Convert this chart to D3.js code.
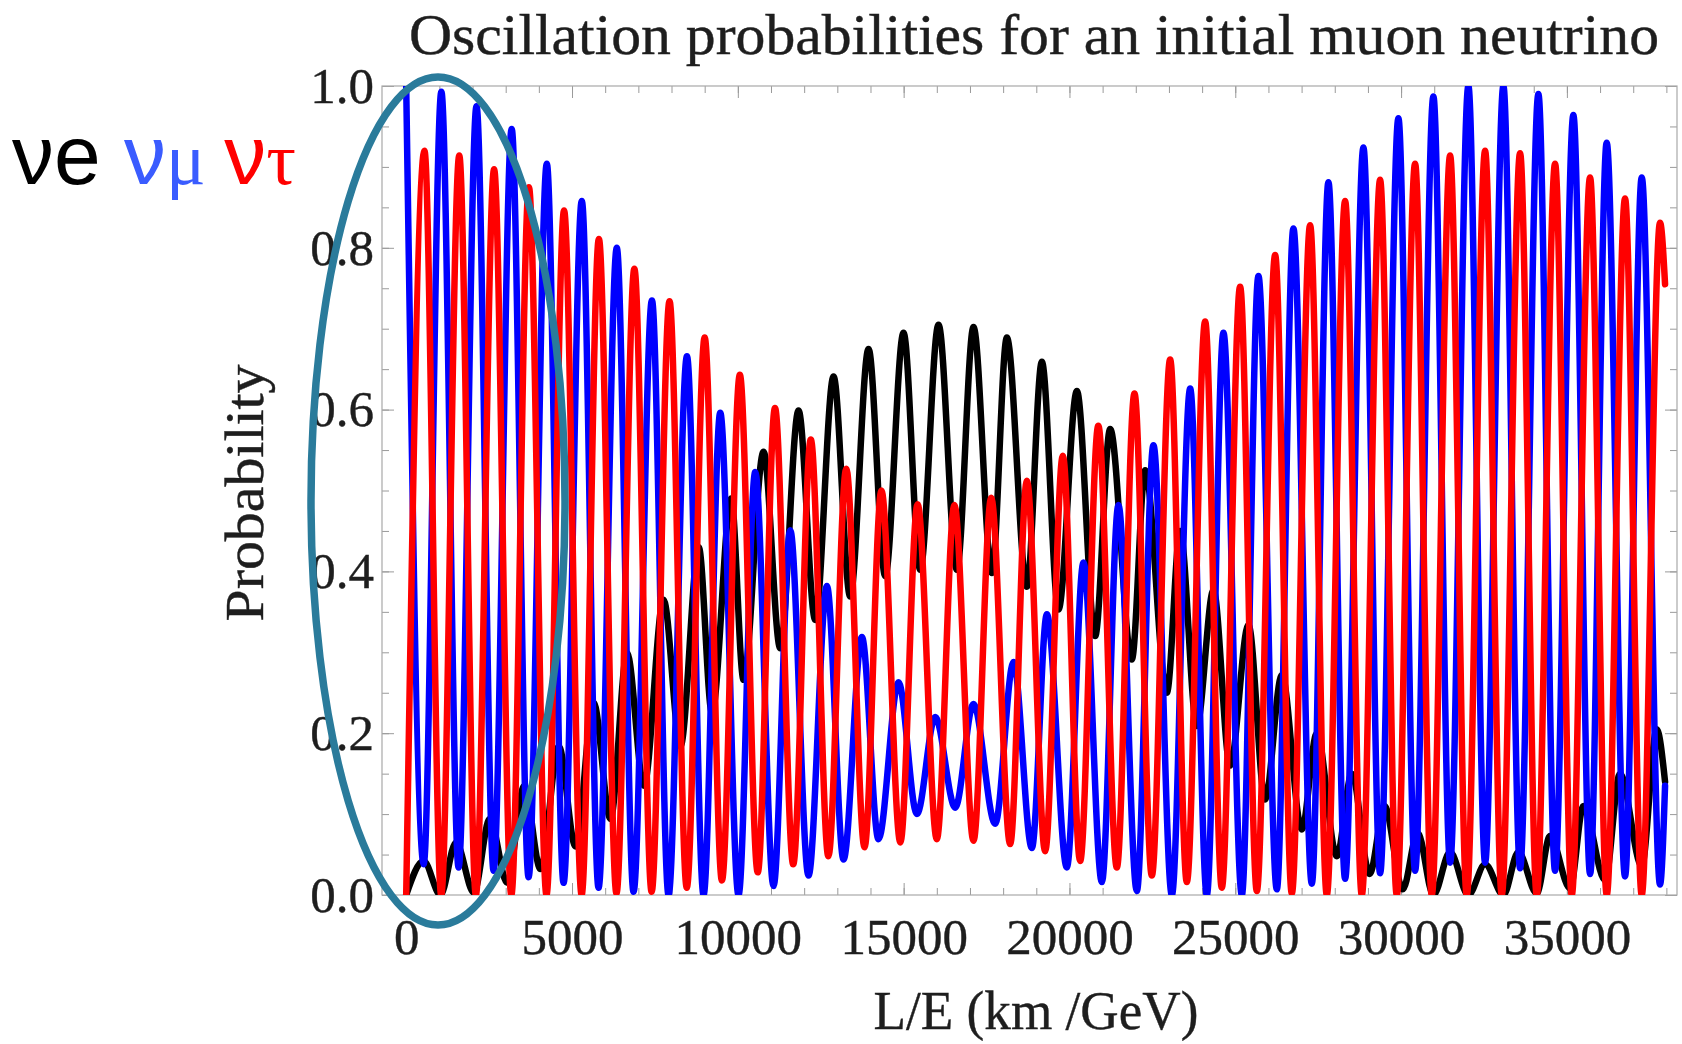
<!DOCTYPE html>
<html>
<head>
<meta charset="utf-8">
<script src="https://cdnjs.cloudflare.com/ajax/libs/d3/7.8.5/d3.min.js"></script>
<style>
  body { margin: 0; background: #ffffff; }
  svg { display: block; }
  .serifText { font-family: "Liberation Serif", "Times New Roman", serif; fill: #1e1e1e; stroke: #1e1e1e; stroke-width: 0.4; }
  .tick text { font-family: "Liberation Serif", "Times New Roman", serif; font-size: 51px; fill: #1e1e1e; stroke: #1e1e1e; stroke-width: 0.4; }
  .tick line { stroke: #9a9a9a; stroke-width: 1; }
</style>
</head>
<body>
<div class="chart"></div>
<script>

// Turning points (L/E in km/GeV, probability), per flavour
var nueExtrema = [
  [0, 0], [525, 0.042], [1033, 0.0], [1500, 0.065], [2040, 0.003], [2520, 0.094],
  [3045, 0.015], [3560, 0.135], [4050, 0.032], [4600, 0.184], [5106, 0.06], [5650, 0.238],
  [6160, 0.094], [6660, 0.299], [7170, 0.135], [7760, 0.365], [8270, 0.184], [8820, 0.43],
  [9220, 0.225], [9800, 0.49], [10172, 0.266], [10775, 0.548], [11278, 0.305], [11830, 0.599],
  [12333, 0.34], [12886, 0.641], [13388, 0.369], [13941, 0.675], [14444, 0.394], [14996, 0.695],
  [15499, 0.402], [16051, 0.705], [16605, 0.402], [17106, 0.702], [17660, 0.398], [18112, 0.689],
  [18716, 0.381], [19168, 0.659], [19669, 0.353], [20224, 0.623], [20775, 0.32], [21227, 0.576],
  [21880, 0.291], [22282, 0.525], [22935, 0.25], [23337, 0.45], [23840, 0.209], [24342, 0.377],
  [24845, 0.16], [25397, 0.334], [25900, 0.118], [26403, 0.272], [27006, 0.081], [27459, 0.20],
  [28062, 0.048], [28514, 0.15], [29050, 0.026], [29500, 0.11], [30050, 0.007], [30500, 0.077],
  [30974, 0], [31478, 0.053], [32029, 0], [32533, 0.038], [33085, 0], [33537, 0.053],
  [34090, 0.002], [34492, 0.073], [35096, 0.008], [35497, 0.11], [36151, 0.018], [36600, 0.15],
  [37257, 0.036], [37707, 0.205], [37960, 0.14]
];

var numuExtrema = [
  [0, 1.0], [527, 0.038], [1060, 0.993], [1580, 0.034], [2120, 0.975], [2635, 0.03],
  [3180, 0.947], [3690, 0.022], [4240, 0.904], [4745, 0.015], [5295, 0.858], [5800, 0.009],
  [6350, 0.80], [6855, 0.004], [7410, 0.735], [7910, 0], [8466, 0.666], [8966, 0],
  [9470, 0.596], [10021, 0], [10525, 0.523], [11076, 0.011], [11580, 0.451], [12131, 0.024],
  [12686, 0.382], [13187, 0.044], [13741, 0.319], [14242, 0.069], [14845, 0.263], [15400, 0.10],
  [15952, 0.22], [16554, 0.108], [17106, 0.236], [17760, 0.088], [18312, 0.288], [18866, 0.058],
  [19319, 0.347], [19921, 0.034], [20422, 0.411], [20977, 0.016], [21477, 0.482], [22032, 0.005],
  [22532, 0.556], [23087, 0], [23640, 0.626], [24142, 0], [24643, 0.695], [25198, 0],
  [25698, 0.765], [26253, 0.007], [26753, 0.824], [27308, 0.014], [27809, 0.881], [28312, 0.02],
  [28864, 0.924], [29367, 0.027], [29919, 0.96], [30422, 0.03], [30974, 0.987], [31478, 0.04],
  [32029, 1.0], [32533, 0.04], [33085, 1.0], [33588, 0.033], [34140, 0.99], [34643, 0.03],
  [35195, 0.964], [35700, 0.026], [36200, 0.93], [36753, 0.023], [37257, 0.887], [37808, 0.013],
  [37960, 0.135]
];

var nutauExtrema = [
  [0, 0], [550, 0.92], [1055, 0], [1600, 0.914], [2100, 0], [2650, 0.897],
  [3170, 0], [3700, 0.875], [4230, 0], [4760, 0.846], [5290, 0], [5810, 0.811],
  [6340, 0.002], [6880, 0.774], [7400, 0.004], [7940, 0.734], [8460, 0.009], [9000, 0.689],
  [9520, 0.018], [10060, 0.643], [10600, 0.028], [11120, 0.602], [11670, 0.038], [12200, 0.563],
  [12730, 0.048], [13270, 0.527], [13820, 0.059], [14330, 0.50], [14900, 0.065], [15420, 0.483],
  [16000, 0.069], [16530, 0.482], [17106, 0.067], [17640, 0.491], [18212, 0.063], [18716, 0.512],
  [19267, 0.054], [19800, 0.543], [20322, 0.042], [20870, 0.58], [21429, 0.034], [21960, 0.62],
  [22484, 0.024], [23036, 0.662], [23539, 0.016], [24091, 0.709], [24594, 0.009], [25146, 0.752],
  [25650, 0.005], [26202, 0.791], [26705, 0.002], [27257, 0.828], [27760, 0], [28312, 0.858],
  [28815, 0], [29367, 0.884], [29870, 0], [30422, 0.904], [30925, 0], [31478, 0.914],
  [31980, 0], [32533, 0.92], [33035, 0], [33588, 0.917], [34090, 0], [34643, 0.904],
  [35146, 0], [35698, 0.887], [36201, 0], [36753, 0.861], [37256, 0], [37808, 0.831],
  [37960, 0.755]
];

// Axis ticks and labels
var xTicks = [0, 5000, 10000, 15000, 20000, 25000, 30000, 35000];
var yTicks = [0.0, 0.2, 0.4, 0.6, 0.8, 1.0];
var seriesColors = ["#000000", "#0000ff", "#ff0000"];
var titleText = "Oscillation probabilities for an initial muon neutrino";
var xLabelText = "L/E (km /GeV)";
var yLabelText = "Probability";

// Page and frame settings
var w = 1682;
var h = 1044;
var frame = {left: 382, right: 1677, top: 86, bottom: 895};

var svg = d3.select(".chart")
  .append("svg")
  .attr("width", w)
  .attr("height", h);

// Scales
var x = d3.scaleLinear()
  .domain([-730, 38320])
  .range([frame.left, frame.right]);

var y = d3.scaleLinear()
  .domain([0, 1])
  .range([frame.bottom, frame.top]);

// Title (the original lettering is slightly wide, so stretch it to its span)
svg.append("text")
  .attr("class", "serifText")
  .attr("x", 1034)
  .attr("y", 54)
  .attr("text-anchor", "middle")
  .attr("textLength", 1250)
  .attr("lengthAdjust", "spacingAndGlyphs")
  .style("font-size", "56px")
  .text(titleText);

// Minor ticks first, then the labelled major ones
var xMinor = d3.range(0, 38001, 1000);
var yMinor = d3.range(0, 1.0001, 0.05);

function drawTicks() {

    svg.append("g")
      .attr("transform", "translate(0," + frame.bottom + ")")
      .call(d3.axisBottom(x).tickValues(xMinor).tickSize(-7).tickSizeOuter(0).tickFormat(""))
      .call(function(g) { g.select(".domain").remove(); });

    svg.append("g")
      .attr("transform", "translate(0," + frame.top + ")")
      .call(d3.axisTop(x).tickValues(xMinor).tickSize(-7).tickSizeOuter(0).tickFormat(""))
      .call(function(g) { g.select(".domain").remove(); });

    svg.append("g")
      .attr("transform", "translate(0," + frame.top + ")")
      .call(d3.axisTop(x).tickValues(xTicks).tickSize(-12).tickSizeOuter(0).tickFormat(""))
      .call(function(g) { g.select(".domain").remove(); });

    svg.append("g")
      .attr("transform", "translate(0," + frame.bottom + ")")
      .call(d3.axisBottom(x).tickValues(xTicks).tickSize(-12).tickSizeOuter(0)
        .tickPadding(23).tickFormat(d3.format("d")))
      .call(function(g) { g.select(".domain").remove(); });

    svg.append("g")
      .attr("transform", "translate(" + frame.left + ",0)")
      .call(d3.axisLeft(y).tickValues(yMinor).tickSize(-7).tickSizeOuter(0).tickFormat(""))
      .call(function(g) { g.select(".domain").remove(); });

    svg.append("g")
      .attr("transform", "translate(" + frame.right + ",0)")
      .call(d3.axisRight(y).tickValues(yMinor).tickSize(-7).tickSizeOuter(0).tickFormat(""))
      .call(function(g) { g.select(".domain").remove(); });

    svg.append("g")
      .attr("transform", "translate(" + frame.right + ",0)")
      .call(d3.axisRight(y).tickValues(yTicks).tickSize(-12).tickSizeOuter(0).tickFormat(""))
      .call(function(g) { g.select(".domain").remove(); });

    svg.append("g")
      .attr("transform", "translate(" + frame.left + ",0)")
      .call(d3.axisLeft(y).tickValues(yTicks).tickSize(-12).tickSizeOuter(0)
        .tickPadding(8).tickFormat(d3.format(".1f")))
      .call(function(g) { g.select(".domain").remove(); });
}

drawTicks();

// Frame
svg.append("rect")
  .attr("x", frame.left)
  .attr("y", frame.top)
  .attr("width", frame.right - frame.left)
  .attr("height", frame.bottom - frame.top)
  .style("fill", "none")
  .style("stroke", "#a8a8a8")
  .style("stroke-width", 1.2);

// Clip the curves to the plot range
svg.append("clipPath")
  .attr("id", "plotClip")
  .append("rect")
  .attr("x", frame.left)
  .attr("y", frame.top)
  .attr("width", frame.right - frame.left)
  .attr("height", frame.bottom - frame.top);

var line = d3.line()
  .x(function(d) { return x(d[0]); })
  .y(function(d) { return y(d[1]); })
  .curve(d3.curveMonotoneX);

var curves = svg.append("g")
  .attr("clip-path", "url(#plotClip)");

[nueExtrema, numuExtrema, nutauExtrema].forEach(function(series, i) {
    curves.append("path")
      .datum(series)
      .attr("d", line)
      .style("fill", "none")
      .style("stroke", seriesColors[i])
      .style("stroke-width", 6.5)
      .style("stroke-linejoin", "round")
      .style("stroke-linecap", "round");
});

// Axis labels
svg.append("text")
  .attr("class", "serifText")
  .attr("x", 1036)
  .attr("y", 1029)
  .attr("text-anchor", "middle")
  .attr("textLength", 325)
  .attr("lengthAdjust", "spacingAndGlyphs")
  .style("font-size", "55px")
  .text(xLabelText);

svg.append("text")
  .attr("class", "serifText")
  .attr("transform", "translate(263,493) rotate(-90)")
  .attr("text-anchor", "middle")
  .attr("textLength", 257)
  .attr("lengthAdjust", "spacingAndGlyphs")
  .style("font-size", "54px")
  .text(yLabelText);

// Flavour legend on the left
var legend = svg.append("text")
  .attr("x", 12)
  .attr("y", 184)
  .style("font-family", "'Liberation Sans', Arial, sans-serif")
  .style("font-size", "84px");

legend.append("tspan").style("fill", "#000000").text("\u03bde ");
legend.append("tspan").style("fill", "#3a5cff").text("\u03bd");
legend.append("tspan").style("fill", "#3a5cff")
  .style("font-family", "'Liberation Serif', serif").style("font-size", "74px").text("\u03bc ");
legend.append("tspan").style("fill", "#ff0000").text("\u03bd");
legend.append("tspan").style("fill", "#ff0000")
  .style("font-family", "'Liberation Serif', serif").style("font-size", "74px").text("\u03c4");

// Highlight ellipse around the first oscillations
svg.append("ellipse")
  .attr("cx", 438)
  .attr("cy", 501)
  .attr("rx", 127)
  .attr("ry", 424)
  .style("fill", "none")
  .style("stroke", "#2a7b9b")
  .style("stroke-width", 7.5);

</script>
</body>
</html>
